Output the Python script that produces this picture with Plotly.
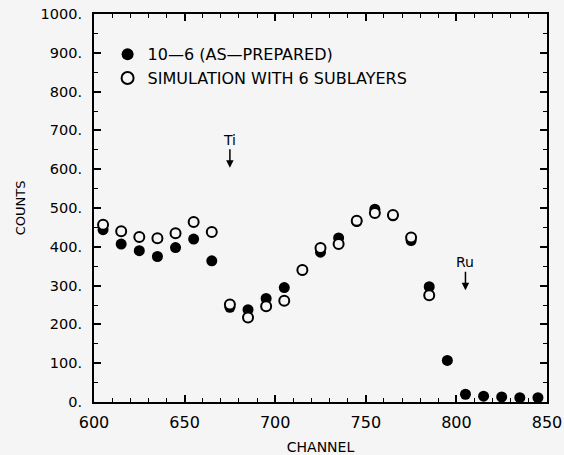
import plotly.graph_objects as go

channels = [605, 615, 625, 635, 645, 655, 665, 675, 685, 695, 705, 715, 725,
            735, 745, 755, 765, 775, 785, 795, 805, 815, 825, 835, 845]
measured = [444, 407, 390, 375, 398, 420, 364, 244, 238, 267, 295, 340, 386,
            423, 465, 497, 480, 416, 297, 107, 20, 15, 13, 11, 11]

sim_channels = [605, 615, 625, 635, 645, 655, 665, 675, 685, 695, 705, 715,
                725, 735, 745, 755, 765, 775, 785]
simulation = [457, 440, 425, 422, 435, 464, 438, 251, 218, 247, 261, 340,
              397, 407, 467, 487, 482, 424, 275]

y_ticks = [0, 100, 200, 300, 400, 500, 600, 700, 800, 900, 1000]
y_labels = ["0.", "100.", "200.", "300.", "400.", "500.", "600.", "700.",
            "800.", "900.", "1000."]
x_ticks = [600, 650, 700, 750, 800, 850]

bg = "#f5f5f5"
font = "DejaVu Sans"

fig = go.Figure()
fig.add_trace(go.Scatter(
    x=channels, y=measured, mode="markers", name="10\u20146 (AS\u2014PREPARED)",
    marker=dict(symbol="circle", size=11, color="black"),
))
fig.add_trace(go.Scatter(
    x=sim_channels, y=simulation, mode="markers", name="SIMULATION WITH 6 SUBLAYERS",
    marker=dict(symbol="circle", size=10, color=bg, line=dict(color="black", width=2)),
))

fig.add_annotation(x=675, y=604, text="Ti", showarrow=True, arrowhead=2,
                   arrowsize=1, arrowwidth=1.5, arrowcolor="black", ax=0, ay=-28,
                   font=dict(family=font, size=14, color="black"))
fig.add_annotation(x=805, y=288, text="Ru", showarrow=True, arrowhead=2,
                   arrowsize=1, arrowwidth=1.5, arrowcolor="black", ax=0, ay=-28,
                   font=dict(family=font, size=14, color="black"))

axis_common = dict(
    showline=True, linecolor="black", linewidth=2, mirror="ticks",
    ticks="inside", tickcolor="black", ticklen=7, tickwidth=2,
    showgrid=False, zeroline=False, automargin=False,
)

fig.update_xaxes(
    range=[600, 850], tickvals=x_ticks,
    tickfont=dict(family=font, size=16, color="black"),
    ticklabelstandoff=5,
    minor=dict(dtick=10, ticks="inside", ticklen=4, tickcolor="black", tickwidth=1),
    title=dict(text="CHANNEL", font=dict(family=font, size=14, color="black"), standoff=12),
    **axis_common,
)
fig.update_yaxes(
    range=[0, 1000], tickvals=y_ticks, ticktext=y_labels,
    tickfont=dict(family=font, size=14.5, color="black"),
    ticklabelstandoff=7,
    minor=dict(dtick=50, ticks="inside", ticklen=4, tickcolor="black", tickwidth=1),
    title=dict(text="COUNTS", font=dict(family=font, size=13, color="black"), standoff=12),
    **axis_common,
)

fig.update_layout(
    width=564, height=455,
    margin=dict(l=94, r=17, t=14, b=53),
    paper_bgcolor=bg, plot_bgcolor=bg,
    showlegend=True,
    legend=dict(x=0.03, y=0.94, xanchor="left", yanchor="top",
                bgcolor="rgba(0,0,0,0)", tracegroupgap=0,
                font=dict(family=font, size=16, color="black"),
                itemsizing="constant"),
)

fig.write_html("out.html")
